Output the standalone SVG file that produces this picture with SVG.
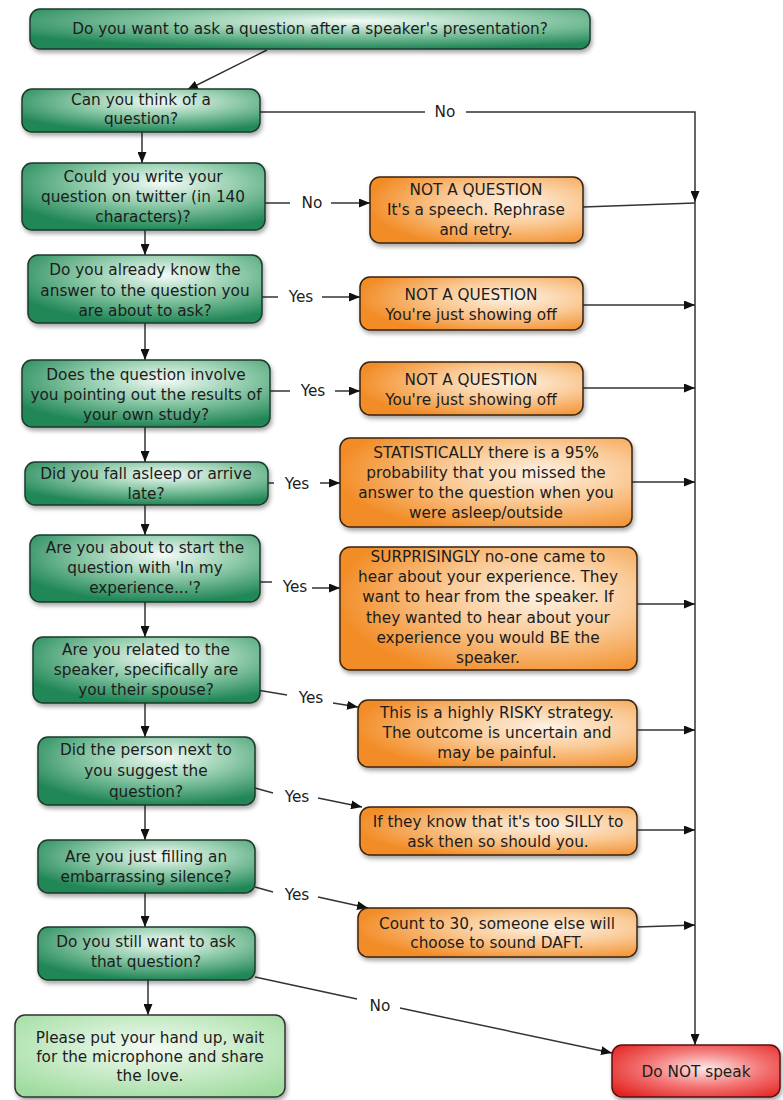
<svg xmlns="http://www.w3.org/2000/svg" width="783" height="1100" viewBox="0 0 783 1100">
<defs>
<radialGradient id="gGreen" cx="0.58" cy="0.3" r="0.7">
<stop offset="0" stop-color="#f4fbf7"/>
<stop offset="0.45" stop-color="#93cdad"/>
<stop offset="1" stop-color="#218757"/>
</radialGradient>
<radialGradient id="gOrange" cx="0.68" cy="0.4" r="0.7">
<stop offset="0" stop-color="#fdf2e5"/>
<stop offset="0.45" stop-color="#facb98"/>
<stop offset="1" stop-color="#f28c26"/>
</radialGradient>
<radialGradient id="gLight" cx="0.5" cy="0.4" r="0.7">
<stop offset="0" stop-color="#f3fbf3"/>
<stop offset="1" stop-color="#9edb9e"/>
</radialGradient>
<radialGradient id="gRed" cx="0.55" cy="0.45" r="0.7">
<stop offset="0" stop-color="#fde8e8"/>
<stop offset="0.5" stop-color="#f37575"/>
<stop offset="1" stop-color="#e2221e"/>
</radialGradient>
<filter id="sh" x="-10%" y="-20%" width="120%" height="150%">
<feDropShadow dx="1.5" dy="3" stdDeviation="2" flood-color="#000" flood-opacity="0.35"/>
</filter>
<marker id="ah" viewBox="0 0 11 9" refX="11" refY="4.5" markerWidth="11" markerHeight="9" markerUnits="userSpaceOnUse" orient="auto">
<path d="M0,0 L11,4.5 L0,9 z" fill="#111"/>
</marker>
<style>
.g{fill:url(#gGreen);stroke:#1c3a2b;stroke-width:1.5;filter:url(#sh)}
.o{fill:url(#gOrange);stroke:#3a2410;stroke-width:1.5;filter:url(#sh)}
.l{fill:url(#gLight);stroke:#333;stroke-width:1.5;filter:url(#sh)}
.r{fill:url(#gRed);stroke:#5a1010;stroke-width:1.5;filter:url(#sh)}
text{font-family:"DejaVu Sans","Liberation Sans",sans-serif;font-size:15.3px;fill:#1c1c1c;text-anchor:middle}
.c path,.c line{stroke:#333;stroke-width:1.5;fill:none}
.a{marker-end:url(#ah)}
</style>
</defs>
<rect width="783" height="1100" fill="#fff"/>

<g id="connectors" class="c">
<path class="a" d="M267,50 L187,90"/>
<path class="a" d="M142,132 V163"/>
<path d="M260,112 H425"/>
<path class="a" d="M466,112 H695 V202"/>
<path class="a" d="M695,202 V1045"/>
<path d="M265,203 H290"/>
<path class="a" d="M331,203 H370"/>
<path d="M583,207 L695,203"/>
<path class="a" d="M145,230 V255"/>
<path d="M262,297 H278"/>
<path class="a" d="M322,297 H360"/>
<path class="a" d="M583,305 H695"/>
<path class="a" d="M145,323 V360"/>
<path d="M270,391 H290"/>
<path class="a" d="M335,391 H360"/>
<path class="a" d="M583,388 H695"/>
<path class="a" d="M145,427 V462"/>
<path d="M268,483 H274"/>
<path class="a" d="M320,483 H340"/>
<path class="a" d="M632,482 H695"/>
<path class="a" d="M145,505 V535"/>
<path d="M260,582 L272,582"/>
<path class="a" d="M312,588 L340,588"/>
<path class="a" d="M637,604 H695"/>
<path class="a" d="M145,602 V637"/>
<path d="M257,690 L287,695"/>
<path class="a" d="M333,703 L358,707"/>
<path class="a" d="M637,730 H695"/>
<path class="a" d="M145,703 V737"/>
<path d="M255,788 L273,793"/>
<path class="a" d="M318,798 L362,807"/>
<path class="a" d="M637,830 H695"/>
<path class="a" d="M145,805 V840"/>
<path d="M255,887 L273,892"/>
<path class="a" d="M318,897 L368,908"/>
<path class="a" d="M637,927 L695,925"/>
<path class="a" d="M145,893 V927"/>
<path d="M255,977 L357,999"/>
<path class="a" d="M400,1008 L612,1053"/>
<path class="a" d="M148,980 V1015"/>
<text x="445" y="117">No</text>
<text x="312" y="208">No</text>
<text x="301" y="302">Yes</text>
<text x="313" y="396">Yes</text>
<text x="297" y="489">Yes</text>
<text x="295" y="592">Yes</text>
<text x="311" y="703">Yes</text>
<text x="297" y="802">Yes</text>
<text x="297" y="900">Yes</text>
<text x="380" y="1011">No</text>
</g>

<g id="n1"><rect class="g" x="30" y="9" width="560" height="40" rx="10"/>
<text x="310" y="34">Do you want to ask a question after a speaker's presentation?</text></g>

<g id="n2"><rect class="g" x="22" y="89" width="238" height="43" rx="10"/>
<text x="141" y="105">Can you think of a</text><text x="141" y="124">question?</text></g>

<g id="n3"><rect class="g" x="22" y="163" width="243" height="67" rx="10"/>
<text x="143" y="182">Could you write your</text><text x="143" y="202">question on twitter (in 140</text><text x="143" y="222">characters)?</text></g>

<g id="o1"><rect class="o" x="370" y="177" width="213" height="66" rx="10"/>
<text x="476" y="195">NOT A QUESTION</text><text x="476" y="215">It's a speech. Rephrase</text><text x="476" y="235">and retry.</text></g>

<g id="n4"><rect class="g" x="28" y="255" width="234" height="68" rx="10"/>
<text x="145" y="275">Do you already know the</text><text x="145" y="296">answer to the question you</text><text x="145" y="316">are about to ask?</text></g>

<g id="o2"><rect class="o" x="360" y="277" width="223" height="53" rx="10"/>
<text x="471" y="300">NOT A QUESTION</text><text x="471" y="320">You're just showing off</text></g>

<g id="n5"><rect class="g" x="22" y="360" width="248" height="67" rx="10"/>
<text x="146" y="380">Does the question involve</text><text x="146" y="400">you pointing out the results of</text><text x="146" y="420">your own study?</text></g>

<g id="o3"><rect class="o" x="360" y="362" width="223" height="53" rx="10"/>
<text x="471" y="385">NOT A QUESTION</text><text x="471" y="405">You're just showing off</text></g>

<g id="n6"><rect class="g" x="25" y="462" width="243" height="43" rx="10"/>
<text x="146" y="479">Did you fall asleep or arrive</text><text x="146" y="499">late?</text></g>

<g id="o4"><rect class="o" x="340" y="438" width="292" height="89" rx="10"/>
<text x="486" y="458">STATISTICALLY there is a 95%</text><text x="486" y="478">probability that you missed the</text><text x="486" y="498">answer to the question when you</text><text x="486" y="518">were asleep/outside</text></g>

<g id="n7"><rect class="g" x="30" y="535" width="230" height="67" rx="10"/>
<text x="145" y="553">Are you about to start the</text><text x="145" y="573">question with 'In my</text><text x="145" y="593">experience...'?</text></g>

<g id="o5"><rect class="o" x="340" y="547" width="297" height="123" rx="10"/>
<text x="488" y="562">SURPRISINGLY no-one came to</text><text x="488" y="582">hear about your experience. They</text><text x="488" y="602">want to hear from the speaker. If</text><text x="488" y="623">they wanted to hear about your</text><text x="488" y="643">experience you would BE the</text><text x="488" y="663">speaker.</text></g>

<g id="n8"><rect class="g" x="33" y="637" width="227" height="66" rx="10"/>
<text x="146" y="655">Are you related to the</text><text x="146" y="675">speaker, specifically are</text><text x="146" y="695">you their spouse?</text></g>

<g id="o6"><rect class="o" x="358" y="700" width="279" height="67" rx="10"/>
<text x="497" y="718">This is a highly RISKY strategy.</text><text x="497" y="738">The outcome is uncertain and</text><text x="497" y="758">may be painful.</text></g>

<g id="n9"><rect class="g" x="38" y="737" width="217" height="68" rx="10"/>
<text x="146" y="755">Did the person next to</text><text x="146" y="776">you suggest the</text><text x="146" y="797">question?</text></g>

<g id="o7"><rect class="o" x="360" y="807" width="277" height="48" rx="10"/>
<text x="498" y="827">If they know that it's too SILLY to</text><text x="498" y="847">ask then so should you.</text></g>

<g id="n10"><rect class="g" x="38" y="840" width="217" height="53" rx="10"/>
<text x="146" y="862">Are you just filling an</text><text x="146" y="882">embarrassing silence?</text></g>

<g id="o8"><rect class="o" x="358" y="908" width="279" height="49" rx="10"/>
<text x="497" y="929">Count to 30, someone else will</text><text x="497" y="948">choose to sound DAFT.</text></g>

<g id="n11"><rect class="g" x="38" y="927" width="217" height="53" rx="10"/>
<text x="146" y="947">Do you still want to ask</text><text x="146" y="967">that question?</text></g>

<g id="n12"><rect class="l" x="15" y="1015" width="270" height="82" rx="10"/>
<text x="150" y="1043">Please put your hand up, wait</text><text x="150" y="1062">for the microphone and share</text><text x="150" y="1081">the love.</text></g>

<g id="n13"><rect class="r" x="612" y="1045" width="168" height="52" rx="10"/>
<text x="696" y="1077">Do NOT speak</text></g>
</svg>
